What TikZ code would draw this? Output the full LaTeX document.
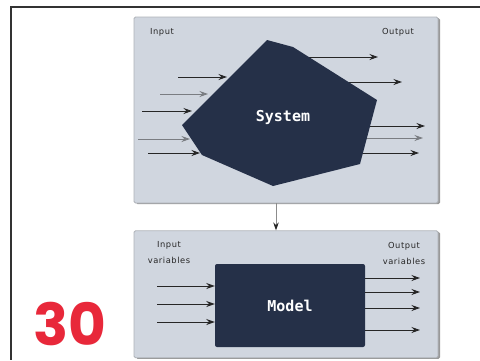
\documentclass[tikz,border=0pt]{standalone}
\usepackage{fontspec}
\usepackage{xcolor}
\usepackage{tikz}
\usetikzlibrary{arrows.meta, positioning, shadows}
\newfontfamily\labelfont[LetterSpace=7]{DejaVu Sans}
\newfontfamily\boxfont{DejaVu Sans Mono}
\newfontfamily\numfont{Poppins}
\definecolor{panelgray}{HTML}{D0D6DF}
\definecolor{paneledge}{HTML}{AEB2B8}
\definecolor{navy}{HTML}{253048}
\definecolor{lightarrow}{HTML}{7A7D82}
\definecolor{numred}{HTML}{E8283A}
\tikzstyle{panel} = [rectangle, rounded corners=1.5pt, 
fill=panelgray, 
draw=paneledge, 
line width=0.8pt,
drop shadow={shadow xshift=2pt, shadow yshift=-1pt, fill=black!40, opacity=1}]
\tikzstyle{darkbox} = [rectangle, rounded corners=2pt, 
fill=navy, 
text=white, 
font=\boxfont\bfseries\fontsize{15}{15}\selectfont]
\tikzstyle{textlabel} = [font=\labelfont\fontsize{8.3}{9}\selectfont, text=black!85, align=center]
\tikzstyle{arrow} = [line width=1pt, draw=black!85, -{Stealth[length=8.5pt,width=6pt]}]
\tikzstyle{greyarrow} = [arrow, draw=lightarrow]

\begin{document}
\begin{tikzpicture}[x=1pt, y=-1pt]
            \useasboundingbox (0,0) rectangle (480,360);
            % frame
            \coordinate (frame-right) at (480,7);
            \coordinate (frame-corner) at (11,7);
            \coordinate (frame-bottom) at (11,360);
            \draw [line width=1.4pt, black!80] (frame-right) -- (frame-corner) -- (frame-bottom);

            \node (page-number) [inner sep=0pt, font=\numfont\bfseries\fontsize{58}{58}\selectfont, text=numred] at (70,324) {30};

            \node (system-panel) [panel, minimum width=304pt, minimum height=186pt] at (286,110) {};
            \node (model-panel) [panel, minimum width=304pt, minimum height=127pt, below=27pt of system-panel] {};
            \draw [line width=0.8pt, draw=black!45, -{Stealth[length=8pt,width=5.5pt,color=black!85]}] ([xshift=-10pt]system-panel.south) -- ([xshift=-10pt]model-panel.north);

            \node (input-label) [textlabel] at (162,32) {Input};
            \node (output-label) [textlabel] at (398,32) {Output};

            % outputs leave the system
            \coordinate (out-a) at (300,57);   \coordinate (out-a-end) at (378,57);
            \coordinate (out-b) at (340,82);   \coordinate (out-b-end) at (402,82);
            \coordinate (out-c) at (365,126);  \coordinate (out-c-end) at (425,126);
            \coordinate (out-d) at (365,138);  \coordinate (out-d-end) at (423,138);
            \coordinate (out-e) at (358,153);  \coordinate (out-e-end) at (419,153);
            \draw [arrow] (out-a) -- (out-a-end);
            \draw [arrow] (out-b) -- (out-b-end);
            \draw [arrow] (out-c) -- (out-c-end);
            \draw [greyarrow] (out-d) -- (out-d-end);
            \draw [arrow] (out-e) -- (out-e-end);

            \fill [navy] (267,40) -- (293,47) -- (377,100) -- (360,164) -- (273,186) -- (202,155) -- (182,125) -- cycle;
            \node (system) [darkbox, fill=none] at (283,117) {System};

            % inputs reach the system
            \coordinate (in-a) at (178,77);   \coordinate (in-a-end) at (227,77);
            \coordinate (in-b) at (160,94);   \coordinate (in-b-end) at (208,94);
            \coordinate (in-c) at (142,111);  \coordinate (in-c-end) at (192,111);
            \coordinate (in-d) at (138,139);  \coordinate (in-d-end) at (190,139);
            \coordinate (in-e) at (148,153);  \coordinate (in-e-end) at (200,153);
            \draw [arrow] (in-a) -- (in-a-end);
            \draw [greyarrow] (in-b) -- (in-b-end);
            \draw [arrow] (in-c) -- (in-c-end);
            \draw [greyarrow] (in-d) -- (in-d-end);
            \draw [arrow] (in-e) -- (in-e-end);

            \node (model) [darkbox, minimum width=150pt, minimum height=83pt] at (290,305.5) {Model};
            \node (invar-label) [textlabel] at (169,253) {Input\\[7pt]variables};
            \node (outvar-label) [textlabel] at (404,253) {Output\\[7pt]variables};

            \coordinate (mi-a) at (157,286);
            \coordinate (mi-b) at (157,304);
            \coordinate (mi-c) at (157,322);
            \coordinate (mo-a) at (420,278);
            \coordinate (mo-b) at (420,292);
            \coordinate (mo-c) at (420,308);
            \coordinate (mo-d) at (420,330);
            \draw [arrow] (mi-a) -- (mi-a -| model.west);
            \draw [arrow] (mi-b) -- (mi-b -| model.west);
            \draw [arrow] (mi-c) -- (mi-c -| model.west);
            \draw [arrow] (model.east |- mo-a) -- (mo-a);
            \draw [arrow] (model.east |- mo-b) -- (mo-b);
            \draw [arrow] (model.east |- mo-c) -- (mo-c);
            \draw [arrow] (model.east |- mo-d) -- (mo-d);
        \end{tikzpicture}
\end{document}
